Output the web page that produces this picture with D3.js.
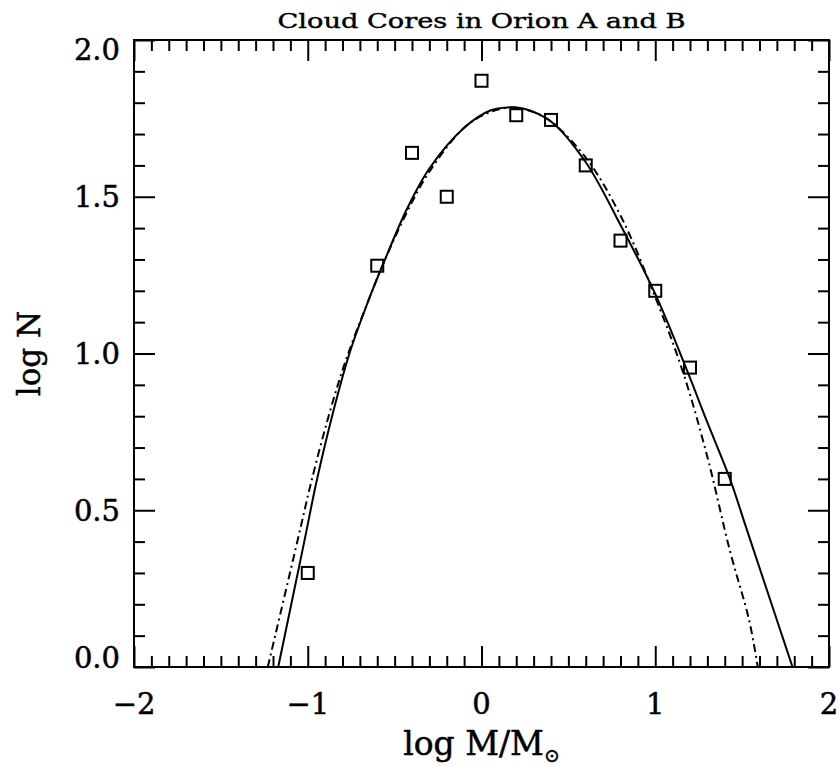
<!DOCTYPE html>
<html>
<head>
<meta charset="utf-8">
<script src="https://cdn.jsdelivr.net/npm/d3@7/dist/d3.min.js"></script>
<style>
  html, body { margin: 0; padding: 0; background: #fff; }
  svg { display: block; }
  text { font-family: "DejaVu Serif", "Liberation Serif", serif; fill: #000; }
</style>
</head>
<body>
<svg id="chart" width="838" height="766"></svg>
<script>
// Binned core mass function: log M (bin centre) and log N
const logMass = [-1.0, -0.6, -0.4, -0.2, 0.0, 0.2, 0.4, 0.6, 0.8, 1.0, 1.2, 1.4];
const logN    = [0.30, 1.28, 1.64, 1.50, 1.87, 1.76, 1.745, 1.60, 1.36, 1.20, 0.955, 0.60];

// Fitted model curve (solid)
const solidFitX = [-1.17, -1.02, -0.95, -0.86, -0.76, -0.65, -0.57, -0.43, -0.30, -0.10, 0.05, 0.15, 0.25, 0.40, 0.60, 0.80, 1.00, 1.18, 1.30, 1.43, 1.52, 1.61, 1.70, 1.79];
const solidFitY = [0.00, 0.40, 0.59, 0.80, 1.00, 1.17, 1.28, 1.46, 1.59, 1.72, 1.775, 1.785, 1.78, 1.74, 1.61, 1.41, 1.19, 0.95, 0.78, 0.60, 0.45, 0.30, 0.15, 0.00];

// Lognormal fit (dash-dot)
const dashFitX = [-1.23, -1.06, -0.98, -0.88, -0.78, -0.65, -0.57, -0.43, -0.30, -0.10, 0.05, 0.18, 0.30, 0.40, 0.60, 0.80, 1.00, 1.16, 1.30, 1.43, 1.54, 1.59];
const dashFitY = [0.00, 0.40, 0.59, 0.80, 0.98, 1.17, 1.28, 1.45, 1.58, 1.72, 1.77, 1.785, 1.77, 1.74, 1.625, 1.44, 1.18, 0.94, 0.67, 0.37, 0.15, 0.00];

// Axis ticks
const xMajorTicks = [-2, -1, 0, 1, 2];
const xTickLabels = ["\u22122", "\u22121", "0", "1", "2"];
const yMajorTicks = [0, 0.5, 1.0, 1.5, 2.0];
const yTickLabels = ["0.0", "0.5", "1.0", "1.5", "2.0"];

const titleText = "Cloud Cores in Orion A and B";

const W = 838, H = 766;
const plot = { left: 134, top: 40, right: 829, bottom: 667 };

const svg = d3.select("#chart");

const x = d3.scaleLinear().domain([-2, 2]).range([plot.left, plot.right]);
const y = d3.scaleLinear().domain([0, 2]).range([plot.bottom, plot.top]);

const majorLen = 21, minorLen = 11;
const xMinor = d3.range(-20, 21).map(d => d / 10).filter(v => !xMajorTicks.some(m => Math.abs(m - v) < 1e-9));
const yMinor = d3.range(0, 21).map(d => d / 10).filter(v => !yMajorTicks.some(m => Math.abs(m - v) < 1e-9));

// Axes on all four sides, ticks pointing inward, labels drawn separately
function drawAxis(axisGen, tx, ty) {
  const g = svg.append("g").attr("transform", `translate(${tx},${ty})`).call(axisGen);
  g.selectAll("text").remove();
  g.select(".domain").remove();
  g.selectAll("line").attr("stroke", "#000").attr("stroke-width", 2);
  return g;
}
// bottom
drawAxis(d3.axisTop(x).tickValues(xMajorTicks).tickSize(majorLen), 0, plot.bottom);
drawAxis(d3.axisTop(x).tickValues(xMinor).tickSize(minorLen), 0, plot.bottom);
// top
drawAxis(d3.axisBottom(x).tickValues(xMajorTicks).tickSize(majorLen), 0, plot.top);
drawAxis(d3.axisBottom(x).tickValues(xMinor).tickSize(minorLen), 0, plot.top);
// left
drawAxis(d3.axisRight(y).tickValues(yMajorTicks).tickSize(majorLen), plot.left, 0);
drawAxis(d3.axisRight(y).tickValues(yMinor).tickSize(minorLen), plot.left, 0);
// right
drawAxis(d3.axisLeft(y).tickValues(yMajorTicks).tickSize(majorLen), plot.right, 0);
drawAxis(d3.axisLeft(y).tickValues(yMinor).tickSize(minorLen), plot.right, 0);

// Frame
svg.append("rect")
  .attr("x", plot.left).attr("y", plot.top)
  .attr("width", plot.right - plot.left).attr("height", plot.bottom - plot.top)
  .attr("fill", "none").attr("stroke", "#000").attr("stroke-width", 2);

// Tick labels
const labelSize = 29, capH = 21;
svg.append("g").selectAll("text").data(yMajorTicks).join("text")
  .attr("x", 120)
  .attr("y", d => {
    let c = y(d);
    c = Math.max(plot.top + 9, Math.min(plot.bottom - 10, c));
    return c + capH / 2;
  })
  .attr("text-anchor", "end")
  .attr("font-size", labelSize)
  .attr("stroke", "#000").attr("stroke-width", 0.5)
  .text((d, i) => yTickLabels[i]);

svg.append("g").selectAll("text").data(xMajorTicks).join("text")
  .attr("x", d => x(d))
  .attr("y", plot.bottom + 47)
  .attr("text-anchor", "middle")
  .attr("font-size", labelSize)
  .attr("stroke", "#000").attr("stroke-width", 0.5)
  .text((d, i) => xTickLabels[i]);

// Title
svg.append("text")
  .attr("x", (plot.left + plot.right) / 2)
  .attr("y", 28)
  .attr("text-anchor", "middle")
  .attr("font-size", 20)
  .attr("stroke", "#000").attr("stroke-width", 0.4)
  .attr("textLength", 408)
  .attr("lengthAdjust", "spacingAndGlyphs")
  .text(titleText);

// Axis titles
const xt = svg.append("text")
  .attr("x", (plot.left + plot.right) / 2)
  .attr("y", 755)
  .attr("text-anchor", "middle")
  .attr("font-size", 33)
  .attr("stroke", "#000").attr("stroke-width", 0.5);
xt.append("tspan").text("log M/M");
xt.append("tspan").attr("font-size", 19).attr("dy", 7).text("\u2299");

svg.append("text")
  .attr("transform", `translate(40,${(plot.top + plot.bottom) / 2}) rotate(-90)`)
  .attr("text-anchor", "middle")
  .attr("font-size", 31)
  .attr("stroke", "#000").attr("stroke-width", 0.5)
  .text("log N");

// Fitted curves, clipped to the plot box
svg.append("clipPath").attr("id", "plotClip")
  .append("rect")
  .attr("x", plot.left).attr("y", plot.top)
  .attr("width", plot.right - plot.left).attr("height", plot.bottom - plot.top);

const line = d3.line().x(d => x(d[0])).y(d => y(d[1])).curve(d3.curveCatmullRom.alpha(0.5));

const curves = svg.append("g").attr("clip-path", "url(#plotClip)");
curves.append("path")
  .datum(dashFitX.map((v, i) => [v, dashFitY[i]]))
  .attr("d", line)
  .attr("fill", "none").attr("stroke", "#000").attr("stroke-width", 2)
  .attr("stroke-dasharray", "8,4,2,4");
curves.append("path")
  .datum(solidFitX.map((v, i) => [v, solidFitY[i]]))
  .attr("d", line)
  .attr("fill", "none").attr("stroke", "#000").attr("stroke-width", 2);

// Data points: open squares
const sq = 12;
svg.append("g").selectAll("rect").data(logMass.map((v, i) => [v, logN[i]])).join("rect")
  .attr("x", d => x(d[0]) - sq / 2)
  .attr("y", d => y(d[1]) - sq / 2)
  .attr("width", sq).attr("height", sq)
  .attr("fill", "none").attr("stroke", "#000").attr("stroke-width", 2);
</script>
</body>
</html>
